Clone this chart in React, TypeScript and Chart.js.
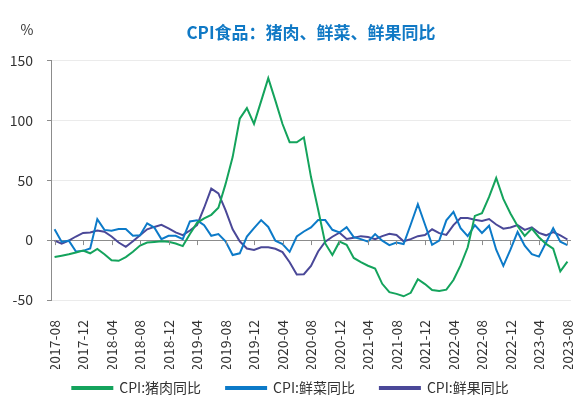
import { useEffect, useRef } from "react";
import { Chart } from "chart.js/auto";
import type { Plugin } from "chart.js/auto";

// monthly, 2017-08 .. 2023-08
const months: string[] = [];
for (let y = 2017; y <= 2023; y++) {
  for (let m = 1; m <= 12; m++) {
    if ((y === 2017 && m < 8) || (y === 2023 && m > 8)) continue;
    months.push(`${y}-${m < 10 ? "0" + m : m}`);
  }
}

const pork = [
  -14.1, -13.0, -11.8, -10.4, -8.8,
  -11.0, -7.4, -11.8, -16.8, -17.3, -14.2, -9.8, -4.5, -2.0, -1.5, -1.0, -1.4,
  -2.8, -5.0, 5.1, 14.4, 18.2, 21.1, 27.0, 46.7, 69.3, 101.3, 110.2, 97.0,
  116.0, 135.2, 116.4, 96.9, 81.7, 81.6, 85.7, 52.6, 25.5, -2.8, -12.5, -1.3,
  -3.9, -14.9, -18.4, -21.4, -23.8, -36.5, -43.5, -44.9, -46.9, -44.0, -32.7, -36.7,
  -41.6, -42.5, -41.4, -33.3, -21.1, -6.0, 20.2, 22.4, 36.0, 51.8, 34.4, 22.2,
  11.8, 3.5, 9.6, 2.4, -3.2, -7.2, -26.0, -17.9,
];

const veg = [
  9, -1.5, -0.5, -9.5, -9,
  -7, 17.5, 8.5, 7.8, 9.2, 9.2, 3.6, 4, 14, 10.5, 0.8, 3.6,
  3.6, 0.8, 15.6, 16.5, 12.5, 3.6, 5, -1, -12.5, -11, 3, 10,
  16.7, 11, -0.5, -3.3, -9.8, 3, 7.2, 10.6, 16.7, 16.7, 8.6, 6.4,
  10.8, 2.5, 0.8, -1.3, 5, -0.5, -4.2, -2, -3.3, 13, 30, 13,
  -4, -0.5, 16.5, 23.5, 10, 3.3, 12.5, 5.9, 12, -8, -21.5, -8,
  6.8, -4.7, -11.7, -13.8, -2, 10, -1.4, -4.2,
];

const fruit = [
  -0.5, -3, -0.5, 3, 6,
  6.4, 8, 7, 3, -2, -5.6, -1, 4, 9, 11, 12.8, 9.8,
  6.5, 4.2, 8, 12.5, 27, 43, 39, 25, 9, -1, -7, -8.2,
  -6, -6, -7.2, -10, -18.5, -28.7, -28.5, -21.5, -9.5, -1.4, 2.8, 6.2,
  1, 2, 3.3, 2.5, 0.8, 3.3, 5.2, 4.3, -1, 0.8, 3.3, 4.2,
  9, 5.8, 4.3, 12.5, 18.5, 18.5, 17, 16, 17.6, 13, 9.5, 10.5,
  12.5, 8.5, 10.6, 6, 4, 6.7, 4, 0.5,
];

const yTicks = [-50, 0, 50, 100, 150];

const FONT = '"Noto Sans CJK SC", "Noto Sans", sans-serif';
const AXIS_GRAY = "#8c8c8c";

const extras: Plugin<"line"> = {
  id: "extras",
  beforeInit(chart) {
    // wide gaps between legend items, but a short legend box
    const legend = chart.legend as any;
    if (!legend) return;
    const fit = legend.fit;
    legend.fit = function () {
      fit.call(this);
      this.height = 45;
    };
  },
  afterLayout(chart) {
    // pull the legend up a little, into the space under the rotated labels
    const legend = chart.legend as any;
    if (legend) {
      legend.top -= 13;
      legend.bottom -= 13;
    }
  },
  afterDatasetsDraw(chart) {
    // small down ticks on the zero line + the "%" unit label
    const { ctx, chartArea, scales } = chart;
    const x = scales.x;
    const y0 = scales.y.getPixelForValue(0);
    ctx.save();
    ctx.strokeStyle = AXIS_GRAY;
    ctx.lineWidth = 1;
    ctx.beginPath();
    months.forEach((_, i) => {
      if (i % 4 !== 0) return;
      const px = Math.round(x.getPixelForValue(i)) + 0.5;
      ctx.moveTo(px, y0);
      ctx.lineTo(px, y0 + 5);
    });
    ctx.stroke();
    ctx.fillStyle = "#333";
    ctx.font = `14px ${FONT}`;
    ctx.textAlign = "center";
    ctx.textBaseline = "middle";
    ctx.fillText("%", chartArea.left - 24, chartArea.top - 31);
    ctx.restore();
  },
};

export default function App() {
  const canvasRef = useRef<HTMLCanvasElement | null>(null);
  const chartRef = useRef<Chart<"line"> | null>(null);

  useEffect(() => {
    document.body.style.margin = "0";
    if (!canvasRef.current) return;
    if (chartRef.current) chartRef.current.destroy();

    chartRef.current = new Chart(canvasRef.current, {
      type: "line",
      data: {
        labels: months,
        datasets: [
          { label: "CPI:猪肉同比", data: pork, borderColor: "#14a35c", backgroundColor: "#14a35c" },
          { label: "CPI:鲜菜同比", data: veg, borderColor: "#0c7ac8", backgroundColor: "#0c7ac8" },
          { label: "CPI:鲜果同比", data: fruit, borderColor: "#4a4898", backgroundColor: "#4a4898" },
        ],
      },
      options: {
        responsive: true,
        maintainAspectRatio: false,
        animation: false,
        layout: { padding: { left: 10, right: 17, top: 0, bottom: 0 } },
        elements: {
          point: { radius: 0 },
          line: { borderWidth: 2, tension: 0 },
        },
        plugins: {
          title: {
            display: true,
            text: "CPI食品：猪肉、鲜菜、鲜果同比",
            color: "#1079c5",
            fullSize: false,
            font: { family: FONT, size: 17, weight: "bold" },
            padding: { top: 22, bottom: 18 },
          },
          legend: {
            position: "bottom",
            labels: {
              boxWidth: 40,
              boxHeight: 2,
              padding: 25,
              color: "#333",
              font: { family: FONT, size: 14 },
            },
          },
          tooltip: { enabled: false },
        },
        scales: {
          x: {
            offset: true,
            grid: { display: false },
            border: { display: false },
            afterFit: (scale) => {
              scale.paddingLeft = 0;
              scale.paddingRight = 0;
              scale.height = 69;
            },
            ticks: {
              autoSkip: false,
              maxRotation: 90,
              minRotation: 90,
              padding: 12,
              color: "#333",
              font: { family: FONT, size: 14 },
              callback: (_v, i) => (i % 4 === 0 ? months[i] : ""),
            },
          },
          y: {
            min: -50,
            max: 150,
            afterBuildTicks: (axis) => {
              axis.ticks = yTicks.map((value) => ({ value }));
            },
            afterFit: (scale) => {
              scale.width = 41;
            },
            border: { display: true, color: AXIS_GRAY, width: 1 },
            grid: {
              color: (c) => (c.tick && c.tick.value === 0 ? AXIS_GRAY : "#ebebeb"),
              tickColor: AXIS_GRAY,
              tickLength: 4,
            },
            ticks: {
              padding: 14,
              color: "#333",
              font: { family: FONT, size: 14 },
            },
          },
        },
      },
      plugins: [extras],
    });

    return () => {
      if (chartRef.current) {
        chartRef.current.destroy();
        chartRef.current = null;
      }
    };
  }, []);

  return (
    <div style={{ width: "588px", height: "414px" }}>
      <canvas ref={canvasRef} />
    </div>
  );
}
